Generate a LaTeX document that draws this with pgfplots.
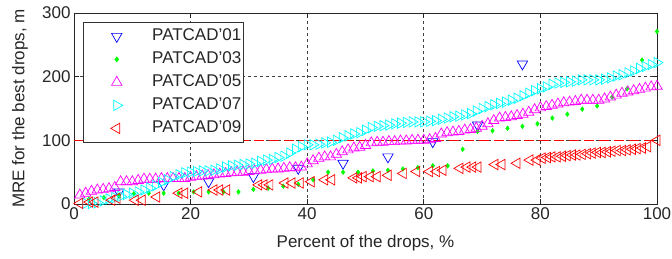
\documentclass[border=0pt]{standalone}
\usepackage{fontspec}
\setmainfont{Liberation Sans}
\usepackage{pgfplots}
\pgfplotsset{compat=1.18}
\definecolor{mblue}{RGB}{0,0,255}
\definecolor{mgreen}{RGB}{0,255,0}
\definecolor{mmag}{RGB}{255,0,255}
\definecolor{mcyan}{RGB}{0,255,255}
\definecolor{mred}{RGB}{255,0,0}
\newcommand\ff{\fontsize{17pt}{20pt}\selectfont}
\begin{document}
\begin{tikzpicture}
\useasboundingbox (-74pt,-55pt) rectangle (598pt,204pt);
\begin{axis}[
  at={(0pt,0pt)}, anchor=south west,
  scale only axis, width=583pt, height=191pt,
  xmin=0, xmax=100, ymin=0, ymax=300,
  xtick={0,20,...,100}, ytick={0,100,200,300},
  tick align=inside, major tick length=5pt,
  grid=major,
  grid style={dash pattern=on 3pt off 3pt, black!75, line width=0.7pt},
  axis line style={black!85, line width=0.8pt},
  every tick/.style={black!85, line width=0.8pt},
  /pgf/number format/assume math mode=true,
  tick label style={font=\ff, text=black!85},
  label style={font=\ff, text=black!85},
  xlabel={Percent of the drops, \%},
  ylabel={MRE for the best drops, m},
  xlabel style={at={(axis description cs:0.5,0)}, anchor=center, yshift=-39pt},
  ylabel style={at={(axis description cs:-0.0926,0.5)}, anchor=center},
  clip=true,
  legend style={at={(axis description cs:0.0154,0.953)}, anchor=north west,
    draw=black!80, line width=0.8pt, fill=white, font=\ff, text=black!85,
    inner xsep=0pt, inner ysep=4pt, row sep=3pt,
    nodes={inner sep=2pt, text height=12pt, text depth=4pt}},
  legend cell align=left,
  legend image code/.code={\path (0pt,0pt) (66pt,0pt); \draw[#1] plot coordinates {(33pt,0pt)};},
]
% reference line
\addplot[mred, line width=0.9pt, dash pattern=on 10pt off 5pt, forget plot] coordinates {(0,100)(100,100)};

% PATCAD'01
\addplot[only marks, mblue, mark=triangle, mark size=6pt, mark options={rotate=180, line width=0.7pt}] coordinates {
(7.69,19)(15.38,30)(23.08,35)(30.77,43)(38.46,56)(46.15,64)(53.85,74)(61.54,98)(69.23,124)(76.92,220)
};
\addlegendentry{PATCAD'01}

% PATCAD'03
\addplot[only marks, mgreen, mark=diamond*, mark size=2.4pt, mark options={draw=mgreen, fill=mgreen}] coordinates {
(2.56,8)(5.13,10)(7.69,13)(10.26,16)(12.82,17)(15.38,17)(17.95,17)(20.51,19)(23.08,19)(25.64,19)
(28.21,19)(30.77,23)(33.33,25)(35.90,28)(38.46,31)(41.03,38)(43.59,50)(46.15,50)(48.72,50)(51.28,52)
(53.85,53)(56.41,55)(58.97,57)(61.54,60)(64.10,60)(66.67,86)(69.23,114)(71.79,115)(74.36,119)(76.92,122)
(79.49,126)(82.05,135)(84.62,141)(87.18,149)(89.74,154)(92.31,168)(94.87,181)(97.44,226)(100,271)
};
\addlegendentry{PATCAD'03}

% PATCAD'05
\addplot[only marks, mmag, mark=triangle, mark size=6pt, mark options={line width=0.7pt}] coordinates {
(1,14)(2,17)(3,20)(4,22)(5,23)(6,24)(7,26)(8,35)(9,35)(10,35)
(11,37)(12,39)(13,39)(14,39)(15,40)(16,40)(17,40)(18,40)(19,40)(20,42)
(21,43)(22,44)(23,45)(24,46)(25,47)(26,48)(27,49)(28,50)(29,50)(30,51)
(31,52)(32,53)(33,54)(34,55)(35,55)(36,56)(37,57)(38,57)(39,58)(40,63)
(41,68)(42,72)(43,74)(44,74)(45,78)(46,82)(47,85)(48,88)(49,89)(50,92)
(51,96)(52,97)(53,97)(54,98)(55,98)(56,99)(57,99)(58,100)(59,100)(60,100)
(61,101)(62,103)(63,110)(64,112)(65,113)(66,114)(67,116)(68,117)(69,119)(70,122)
(71,126)(72,131)(73,135)(74,136)(75,137)(76,139)(77,141)(78,144)(79,148)(80,151)
(81,153)(82,155)(83,157)(84,159)(85,160)(86,161)(87,163)(88,163)(89,163)(90,163)
(91,165)(92,168)(93,171)(94,174)(95,176)(96,178)(97,180)(98,182)(99,184)(100,185)
};
\addlegendentry{PATCAD'05}

% PATCAD'07
\addplot[only marks, mcyan, mark=triangle, mark size=6pt, mark options={rotate=-90, line width=0.7pt}] coordinates {
(2,1)(3,1)(4,2)(5,5)(6,8)(7,10)(8,12)(9,15)(10,17)
(11,19)(12,22)(13,25)(14,29)(15,34)(16,38)(17,43)(18,46)(19,49)(20,50)
(21,51)(22,52)(23,52)(24,53)(25,55)(26,58)(27,60)(28,61)(29,62)(30,63)
(31,64)(32,67)(33,69)(34,70)(35,73)(36,75)(37,80)(38,86)(39,90)(40,93)
(41,93)(42,94)(43,96)(44,97)(45,100)(46,104)(47,107)(48,110)(49,112)(50,116)
(51,120)(52,122)(53,123)(54,124)(55,126)(56,127)(57,128)(58,129)(59,129)(60,129)
(61,130)(62,131)(63,133)(64,135)(65,137)(66,138)(67,140)(68,142)(69,146)(70,150)
(71,153)(72,156)(73,158)(74,160)(75,163)(76,166)(77,170)(78,174)(79,178)(80,181)
(81,184)(82,188)(83,190)(84,191)(85,192)(86,193)(87,195)(88,195)(89,195)(90,195)
(91,196)(92,198)(93,201)(94,203)(95,206)(96,209)(97,213)(98,216)(99,219)(100,222)
};
\addlegendentry{PATCAD'07}

% PATCAD'09
\addplot[only marks, mred, mark=triangle, mark size=6pt, mark options={rotate=90, line width=0.7pt}] coordinates {
(1.0,1)(2.7,3)(3.6,3)(6.5,6)(7.4,9)(10.5,6)(11.7,6)(14.2,11)(18.0,17)(19.0,17)
(21.4,19)(24.0,22)(25.0,22)(26.2,22)(31.7,30)(32.6,30)(33.6,30)(36.2,33)(37.4,33)(38.8,33)
(40.7,35)(43.0,38)(44.2,38)(48.0,41)(48.8,41)(49.6,43)(50.8,43)(52.0,43)(53.9,45)(56.5,48)
(58.8,51)(61.0,51)(62.2,51)(63.3,53)(66.2,56)(67.4,58)(68.4,58)(69.3,58)(72.2,62)(73.4,62)
(76.0,64)(78.2,69)(79.4,69)(80.3,72)(81.2,73)(82.0,74)(82.9,74)(83.8,75)(84.6,76)(85.5,77)
(86.3,77)(87.2,78)(88.1,79)(88.9,80)(89.8,81)(90.6,81)(91.5,82)(92.3,83)(93.2,84)(94.1,84)
(94.9,85)(95.8,86)(96.6,87)(97.5,88)(98.4,90)(100,100)
};
\addlegendentry{PATCAD'09}
\end{axis}
\end{tikzpicture}
\end{document}
